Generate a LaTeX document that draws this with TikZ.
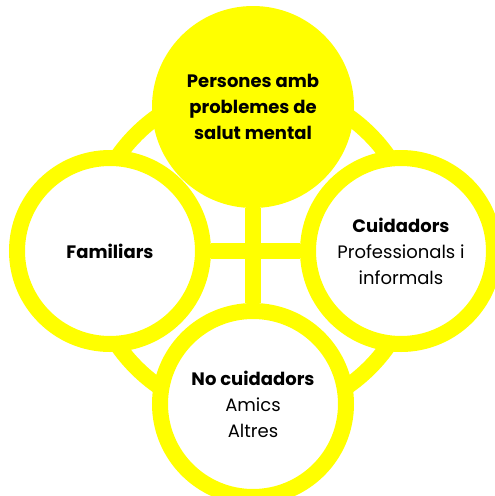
\documentclass[tikz,border=0pt]{standalone}
\usepackage{fontspec}
\setmainfont{Poppins}
\definecolor{ringyellow}{RGB}{255,255,0}
\tikzset{
  group/.style={circle, draw=ringyellow, line width=16pt, fill=white, minimum size=186pt, inner sep=0pt, align=center, font=\fontsize{18}{26}\selectfont},
  link/.style={draw=ringyellow, line width=16pt}
}
\begin{document}
\begin{tikzpicture}[x=1pt,y=-1pt]
	\clip (0,0) rectangle (495,496);
	\coordinate (hub) at (253,251);
	% outer ring behind the four groups
	\draw[link] (hub) circle (165pt);

	\node[group, fill=ringyellow] (persones) at (253,107) {\textbf{Persones amb}\\\textbf{problemes de}\\\textbf{salut mental}};
	\node[group] (familiars) at (110,251) {\textbf{Familiars}};
	\node[group] (cuidadors) at (401,251) {\textbf{Cuidadors}\\Professionals i\\informals};
	\node[group] (nocuidadors) at (253,404) {\textbf{No cuidadors}\\Amics\\Altres};

	\draw[link] (persones) -- (nocuidadors);
	\draw[link] (familiars) -- (cuidadors);
\end{tikzpicture}
\end{document}
